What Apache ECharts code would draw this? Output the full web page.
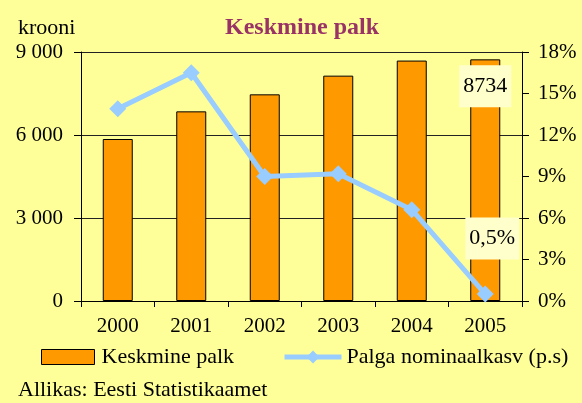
<!DOCTYPE html>
<html>
<head>
<meta charset="utf-8">
<script src="https://cdn.jsdelivr.net/npm/echarts@6/dist/echarts.min.js"></script>
<style>
html,body{margin:0;padding:0;background:#FFFF99;}
#c{width:582px;height:403px;}
</style>
</head>
<body>
<div id="c"></div>
<script>
var years = ['2000', '2001', '2002', '2003', '2004', '2005'];
var salary = [5855, 6855, 7470, 8145, 8690, 8734];
var growth = [13.9, 16.5, 9.0, 9.2, 6.6, 0.5];
var barName = 'Keskmine palk';
var lineName = 'Palga nominaalkasv (p.s)';
var titleText = 'Keskmine palk';
var unitText = 'krooni';
var sourceText = 'Allikas: Eesti Statistikaamet';

var FONT = "'Liberation Serif', 'Times New Roman', serif";
var chart = echarts.init(document.getElementById('c'));

var labelBox = {
  show: true,
  color: '#000',
  fontFamily: FONT,
  fontSize: 22,
  backgroundColor: '#FFFFCC',
  padding: [10, 4]
};

var barData = salary.map(function (v, i) {
  if (i === salary.length - 1) {
    return { value: v, label: Object.assign({}, labelBox, { position: 'insideTop', distance: 6 }) };
  }
  return v;
});
var lineData = growth.map(function (v, i) {
  if (i === growth.length - 1) {
    return {
      value: v,
      label: Object.assign({}, labelBox, {
        position: 'top', distance: 26, offset: [7, 0],
        formatter: function (p) { return String(p.value).replace('.', ',') + '%'; }
      })
    };
  }
  return v;
});

chart.setOption({
  backgroundColor: '#FFFF99',
  animation: false,
  textStyle: { fontFamily: FONT, color: '#000' },
  title: [
    { text: titleText, left: 297, top: 11, textAlign: 'center',
      textStyle: { fontFamily: FONT, fontSize: 24, fontWeight: 'bold', color: '#993366' } },
    { text: unitText, left: 13, top: 12,
      textStyle: { fontFamily: FONT, fontSize: 22, fontWeight: 'normal', color: '#000' } },
    { text: sourceText, left: 13, top: 374,
      textStyle: { fontFamily: FONT, fontSize: 22, fontWeight: 'normal', color: '#000' } }
  ],
  legend: [
    { data: [{ name: barName, icon: 'rect' }], left: 36, top: 341, itemWidth: 53, itemHeight: 15, itemGap: 0,
      itemStyle: { borderColor: '#000', borderWidth: 1 },
      textStyle: { fontFamily: FONT, fontSize: 22, color: '#000', padding: [0, 0, 0, 2] } },
    { data: [lineName], left: 277, top: 341, itemWidth: 57, itemHeight: 16, itemGap: 0,
      lineStyle: { width: 5, color: '#99CCFF' },
      textStyle: { fontFamily: FONT, fontSize: 22, color: '#000', padding: [0, 0, 0, 0] } }
  ],
  grid: { left: 81, right: 60, top: 52, bottom: 102, containLabel: false },
  xAxis: {
    type: 'category',
    data: years,
    axisLine: { lineStyle: { color: '#000', width: 1 } },
    axisTick: { show: true, length: 6, lineStyle: { color: '#000' } },
    axisLabel: { fontFamily: FONT, fontSize: 21, color: '#000', margin: 15 }
  },
  yAxis: [
    {
      type: 'value', min: 0, max: 9000, interval: 3000, position: 'left',
      axisLine: { show: true, lineStyle: { color: '#000', width: 1 } },
      axisTick: { show: true, length: 7, lineStyle: { color: '#000' } },
      splitLine: { show: true, lineStyle: { color: '#222', width: 1 } },
      axisLabel: {
        fontFamily: FONT, fontSize: 21, color: '#000', margin: 18,
        formatter: function (v) { return v === 0 ? '0' : String(v).replace(/\B(?=(\d{3})+(?!\d))/g, ' '); }
      }
    },
    {
      type: 'value', min: 0, max: 18, interval: 3, position: 'right',
      axisLine: { show: true, lineStyle: { color: '#000', width: 1 } },
      axisTick: { show: true, length: 7, lineStyle: { color: '#000' } },
      splitLine: { show: false },
      axisLabel: { fontFamily: FONT, fontSize: 21, color: '#000', margin: 16, formatter: '{value}%' }
    }
  ],
  series: [
    {
      name: barName, type: 'bar', data: barData, barWidth: 30,
      itemStyle: { color: '#FF9900', borderColor: '#000', borderWidth: 1 }
    },
    {
      name: lineName, type: 'line', yAxisIndex: 1, data: lineData,
      symbol: 'diamond', symbolSize: 17,
      lineStyle: { color: '#99CCFF', width: 5 },
      itemStyle: { color: '#99CCFF' }
    }
  ]
});
</script>
</body>
</html>
